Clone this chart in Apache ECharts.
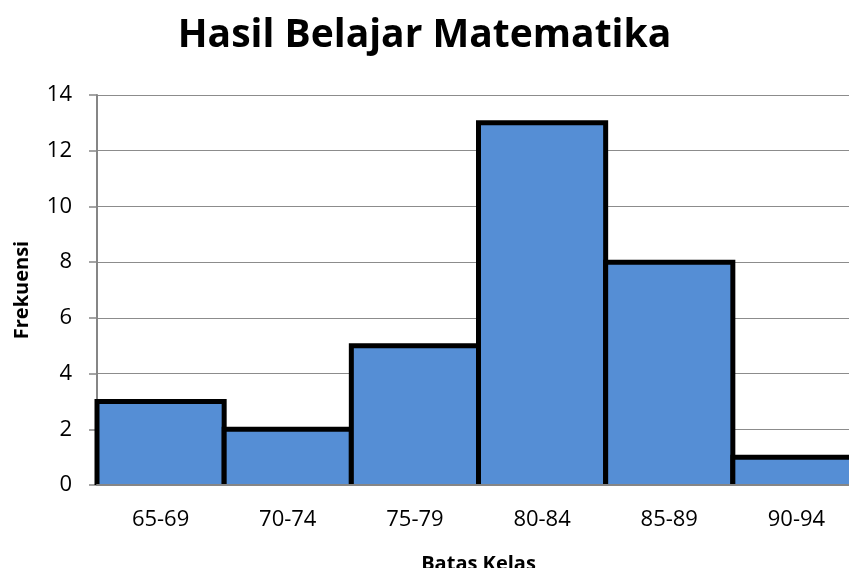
<!DOCTYPE html>
<html>
<head>
<meta charset="utf-8">
<script src="https://cdn.jsdelivr.net/npm/echarts@6/dist/echarts.min.js"></script>
<style>
  html, body { margin: 0; padding: 0; background: #fff; }
  #chart { width: 849px; height: 568px; }
</style>
</head>
<body>
<div id="chart"></div>
<script>
// kelas interval dan frekuensi
var categories = ['65-69', '70-74', '75-79', '80-84', '85-89', '90-94'];
var frekuensi = [3, 2, 5, 13, 8, 1];

var font = '"Open Sans", "Noto Sans", sans-serif';

// histogram: batang rapat, garis hitam tebal kiri-atas-kanan
function renderBar(params, api) {
  var idx = api.value(0);
  var top = api.coord([idx, api.value(1)]);
  var base = api.coord([idx, 0]);
  var w = api.size([1, 0])[0];
  var x0 = top[0] - w / 2, x1 = top[0] + w / 2;
  return {
    type: 'group',
    children: [{
      type: 'rect',
      shape: { x: x0, y: top[1], width: w, height: base[1] - top[1] },
      style: { fill: '#558ED5' }
    }, {
      type: 'polyline',
      shape: { points: [[x0, base[1]], [x0, top[1]], [x1, top[1]], [x1, base[1]]] },
      style: { stroke: '#000', lineWidth: 5, fill: null, lineJoin: 'miter' }
    }]
  };
}

var myChart = echarts.init(document.getElementById('chart'));
myChart.setOption({
  animation: false,
  title: {
    text: 'Hasil Belajar Matematika',
    left: 'center',
    top: 11,
    textStyle: { fontFamily: font, fontWeight: 'bold', fontSize: 39, color: '#000' }
  },
  grid: { left: 97, top: 95, bottom: 83, right: -11, outerBoundsMode: 'none', containLabel: false },
  xAxis: {
    type: 'category',
    data: categories,
    z: 5,
    name: 'Batas Kelas',
    nameLocation: 'middle',
    nameGap: 69,
    nameTextStyle: { fontFamily: font, fontWeight: 'bold', fontSize: 20, color: '#000' },
    axisLine: { lineStyle: { color: '#868686', width: 2 } },
    axisTick: { show: false },
    axisLabel: { fontFamily: font, fontSize: 22, color: '#000', margin: 24 }
  },
  yAxis: {
    type: 'value',
    min: 0,
    max: 14,
    interval: 2,
    name: 'Frekuensi',
    nameLocation: 'middle',
    nameGap: 65,
    nameRotate: 90,
    nameTextStyle: { fontFamily: font, fontWeight: 'bold', fontSize: 20, color: '#000' },
    axisLine: { show: true, lineStyle: { color: '#868686', width: 2 } },
    axisTick: { show: true, length: 8, lineStyle: { color: '#868686', width: 1.5 } },
    splitLine: { lineStyle: { color: '#8c8c8c', width: 1.2 } },
    axisLabel: { fontFamily: font, fontSize: 22, color: '#000', margin: 25 }
  },
  series: [{
    type: 'custom',
    renderItem: renderBar,
    encode: { x: 0, y: 1 },
    data: frekuensi.map(function (v, i) { return [i, v]; }),
    z: 2
  }]
});
</script>
</body>
</html>
